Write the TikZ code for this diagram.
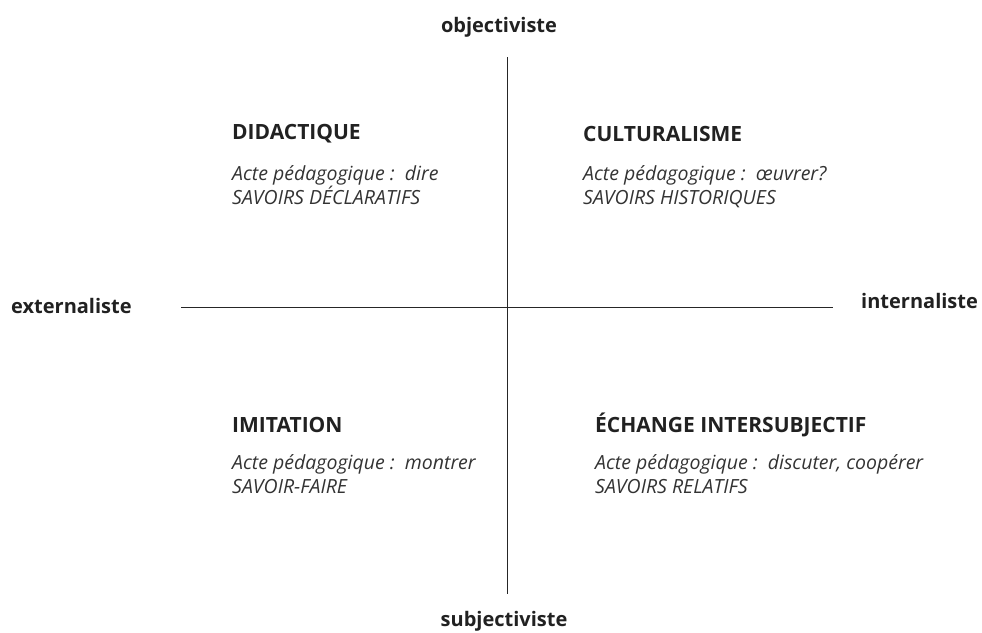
\documentclass[tikz,border=0pt]{standalone}
\usepackage{fontspec}
\setmainfont{Open Sans}
\begin{document}
\begin{tikzpicture}[x=1pt,y=-1pt,
  axislabel/.style={font=\fontsize{20}{24}\selectfont\bfseries, text=black!87, inner sep=0pt},
  heading/.style={font=\fontsize{21}{24}\selectfont\bfseries, text=black!87, inner sep=0pt, anchor=west},
  body/.style={font=\fontsize{19.5}{24}\selectfont\itshape, text=black!80, inner sep=0pt, anchor=north west, align=left},
  axisline/.style={draw=black!85, line width=0.9pt}]
\useasboundingbox (0,0) rectangle (982,632);
\node[axislabel] (obj) at (499,27) {objectiviste};
\node[axislabel] (subj) at (504,621) {subjectiviste};
\node[axislabel, anchor=west] (ext) at (11,306) {externaliste};
\node[axislabel, anchor=west] (int) at (861,301) {internaliste};
\coordinate (top) at (507,57);
\coordinate (bot) at (507,594);
\coordinate (left) at (181,307);
\coordinate (right) at (833,307);
\draw[axisline] (top) -- (bot);
\draw[axisline] (left) -- (right);
\node[heading] (h1) at (232,134) {DIDACTIQUE};
\node[body] (b1) at (232,165) {Acte pédagogique :\ \ dire\\SAVOIRS DÉCLARATIFS};
\node[heading] (h2) at (583,134) {CULTURALISME};
\node[body] (b2) at (583,165) {Acte pédagogique :\ \ œuvrer?\\SAVOIRS HISTORIQUES};
\node[heading] (h3) at (232,425) {IMITATION};
\node[body] (b3) at (232,454) {Acte pédagogique :\ \ montrer\\SAVOIR-FAIRE};
\node[heading] (h4) at (595,425) {ÉCHANGE INTERSUBJECTIF};
\node[body] (b4) at (595,454) {Acte pédagogique :\ \ discuter, coopérer\\SAVOIRS RELATIFS};
\end{tikzpicture}
\end{document}
